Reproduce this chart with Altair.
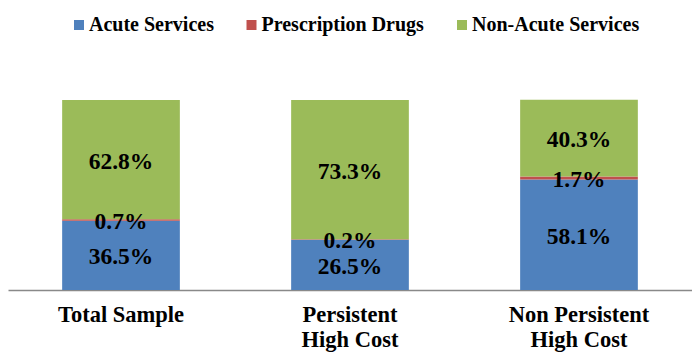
import altair as alt
import pandas as pd

categories = ["Total Sample", "Persistent|High Cost", "Non Persistent|High Cost"]
series = ["Acute Services", "Prescription Drugs", "Non-Acute Services"]
acute = [36.5, 26.5, 58.1]
rx = [0.7, 0.2, 1.7]
non_acute = [62.8, 73.3, 40.3]
colors = ["#4F81BD", "#C0504D", "#9BBB59"]

FONT = "Liberation Serif"

rows = []
for i, cat in enumerate(categories):
    base = 0.0
    for j, (name, vals) in enumerate(zip(series, [acute, rx, non_acute])):
        v = vals[i]
        rows.append({
            "cat": cat, "series": name, "value": v, "order": j,
            "start": base, "end": base + v, "mid": base + v / 2,
            "label": f"{v:.1f}%",
        })
        base += v
df = pd.DataFrame(rows)

x_enc = alt.X(
    "cat:N",
    sort=categories,
    scale=alt.Scale(paddingInner=0.486, paddingOuter=0.2365),
    axis=alt.Axis(
        title=None, labelAngle=0, ticks=False,
        labelExpr="split(datum.label, '|')",
        labelFont=FONT, labelFontWeight="bold", labelFontSize=22.5,
        labelLineHeight=25, labelColor="black",
        domainColor="#898989", domainWidth=1.5,
        labelPadding=13, labelBaseline="top",
    ),
)
y_scale = alt.Scale(domain=[0, 100])

bars = alt.Chart(df).mark_bar().encode(
    x=x_enc,
    y=alt.Y("start:Q", scale=y_scale, axis=None),
    y2="end:Q",
    color=alt.Color(
        "series:N",
        scale=alt.Scale(domain=series, range=colors),
        legend=alt.Legend(
            orient="none", legendX=61, legendY=-85, direction="horizontal",
            title=None, symbolType="square", symbolSize=100,
            symbolStrokeWidth=0, labelFont=FONT, labelFontSize=20,
            labelFontWeight="bold", labelColor="black", labelLimit=400,
            columnPadding=27.5, labelOffset=0, padding=0,
        ),
    ),
)

text = alt.Chart(df).mark_text(
    font=FONT, fontWeight="bold", fontSize=23.5, dy=2, color="black"
).encode(
    x=x_enc,
    y=alt.Y("mid:Q", scale=y_scale, axis=None),
    text="label:N",
)

chart = alt.layer(bars, text).properties(
    width=684, height=190,
    padding={"left": 0, "right": 0, "top": 92, "bottom": 66},
    autosize=alt.AutoSizeParams(type="none"),
).configure_view(stroke=None)

chart.save("out.html", embed_options={"renderer": "svg", "actions": False})
